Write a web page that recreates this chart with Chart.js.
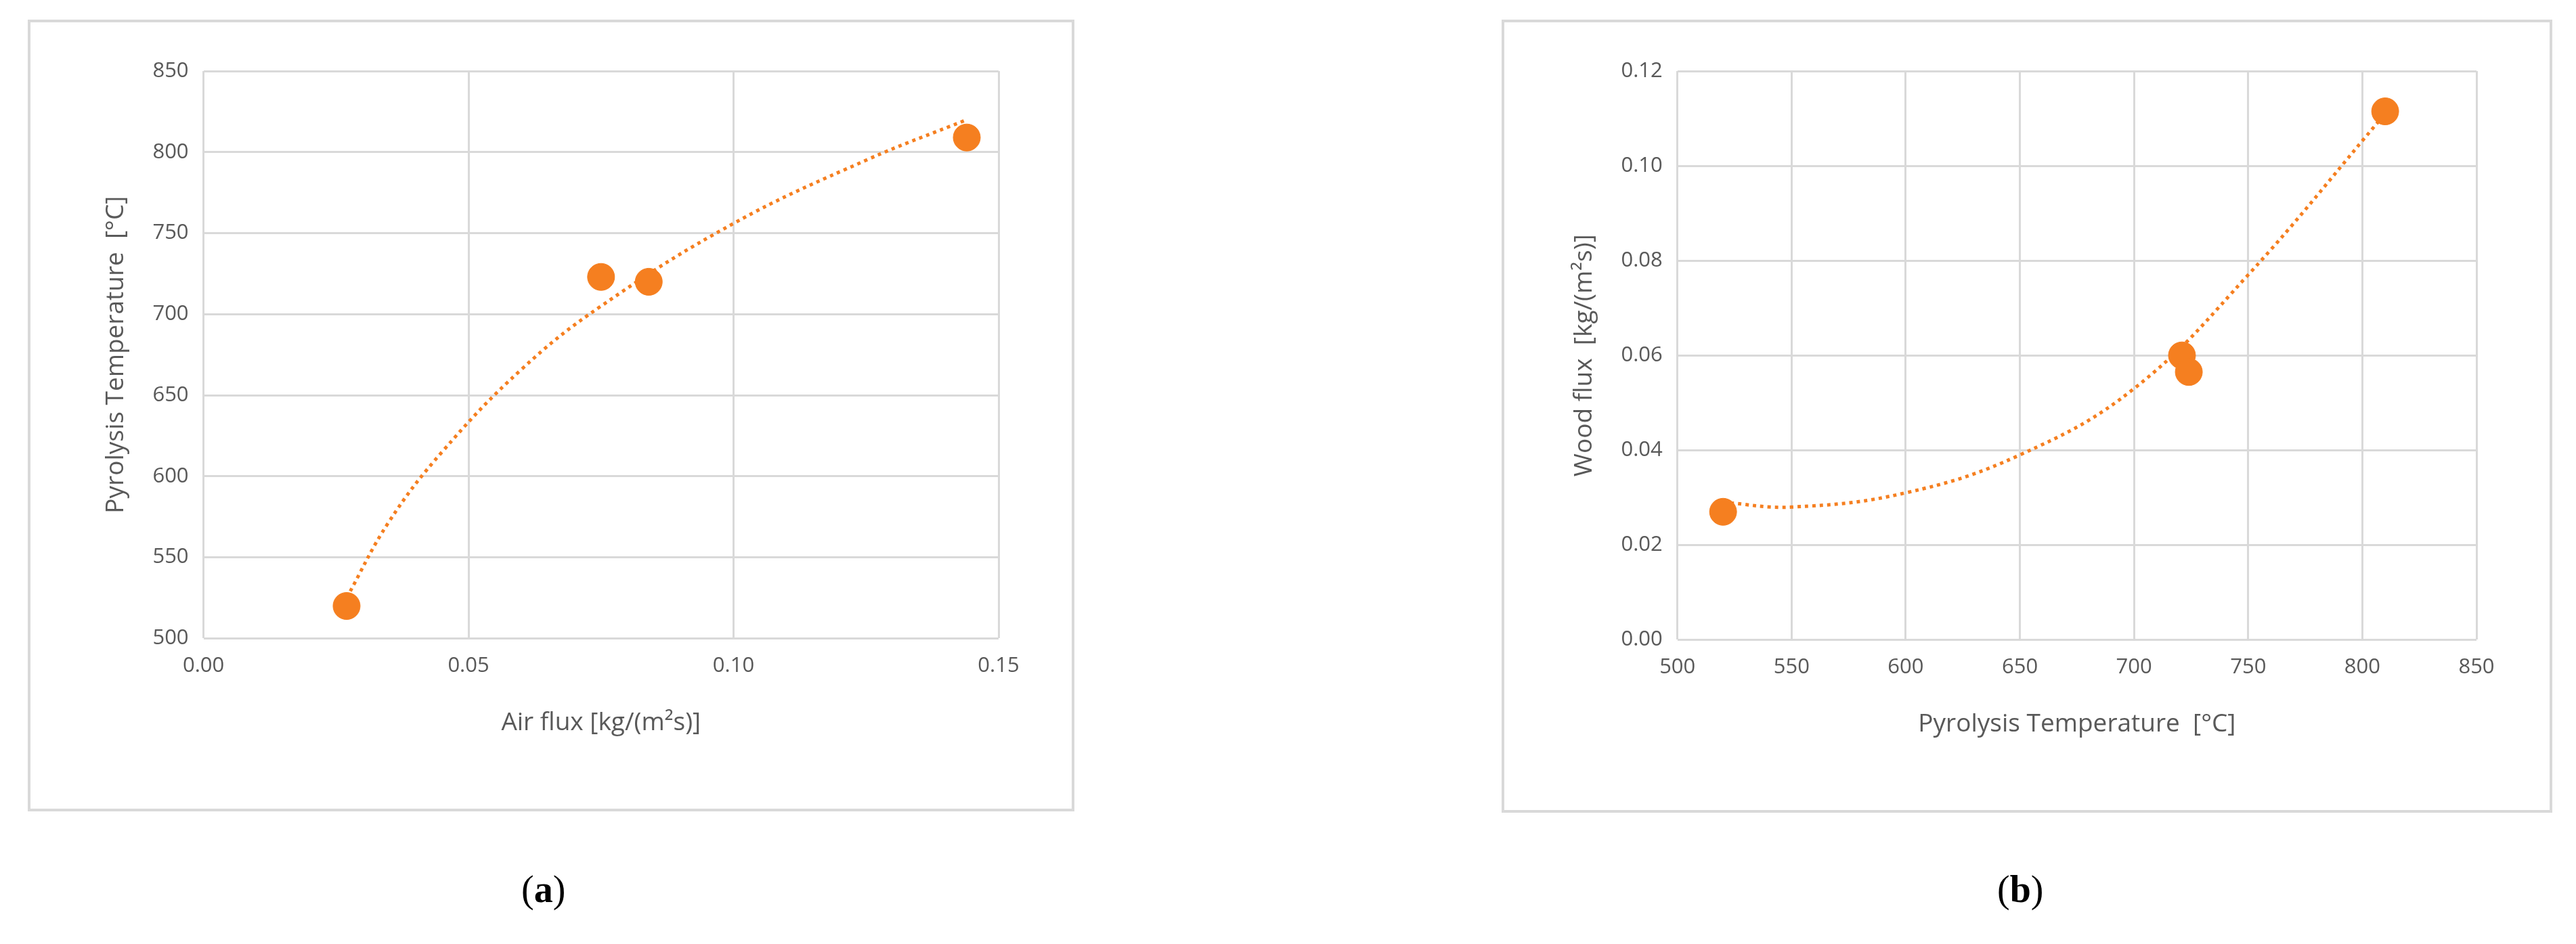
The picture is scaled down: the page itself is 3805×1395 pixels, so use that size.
<!DOCTYPE html>
<html>
<head>
<meta charset="utf-8">
<script src="https://cdn.jsdelivr.net/npm/chart.js@4.4.0/dist/chart.umd.min.js"></script>
<style>
  body { margin: 0; background: #fff; width: 3805px; height: 1395px; position: relative; overflow: hidden; }
  .box { position: absolute; border: 4px solid #d9d9d9; box-sizing: border-box; }
  .cap { position: absolute; font-family: "Liberation Serif", serif; font-size: 56px; color: #000; }
</style>
</head>
<body>
<div class="box" style="left:41px;top:29px;width:1546px;height:1170px"><canvas id="chartA"></canvas></div>
<div class="box" style="left:2218px;top:29px;width:1552px;height:1172px"><canvas id="chartB"></canvas></div>
<div class="cap" style="left:770px;top:1282px">(<b>a</b>)</div>
<div class="cap" style="left:2950px;top:1282px">(<b>b</b>)</div>
<script>
// panel (a): air flux vs pyrolysis temperature
const airFlux = [0.027, 0.075, 0.084, 0.144];
const pyroTempA = [520, 723, 720, 809];
const trendAx = [0.027, 0.035, 0.045, 0.06, 0.075, 0.1, 0.125, 0.144];
const trendAy = [525, 572, 615, 666, 705, 756, 795, 820];

// panel (b): pyrolysis temperature vs wood flux
const pyroTempB = [520, 721, 724, 810];
const woodFlux = [0.027, 0.060, 0.0565, 0.1115];
const trendBx = [520, 550, 600, 650, 700, 750, 810];
const trendBy = [0.029, 0.028, 0.031, 0.039, 0.053, 0.077, 0.111];

const orange = '#f57f20';
const tickFont = { family: 'Open Sans', size: 31 };
const titleFont = { family: 'Open Sans', size: 37 };
const grey = '#595959';

function makeChart(id, px, py, tx, ty, xOpt, yOpt, xTitle, yTitle, pad) {
  new Chart(document.getElementById(id), {
    type: 'scatter',
    data: {
      datasets: [
        {
          data: px.map((x, i) => ({ x: x, y: py[i] })),
          backgroundColor: orange, borderColor: orange, pointRadius: 20, pointHoverRadius: 20
        },
        {
          data: tx.map((x, i) => ({ x: x, y: ty[i] })),
          showLine: true, tension: 0.4, borderColor: orange,
          borderWidth: 5, borderDash: [5, 6], pointRadius: 0, fill: false
        }
      ]
    },
    options: {
      responsive: true, maintainAspectRatio: false, animation: false,
      layout: { padding: pad },
      plugins: { legend: { display: false }, tooltip: { enabled: false } },
      scales: {
        x: Object.assign({
          type: 'linear',
          grid: { color: '#d9d9d9', lineWidth: 3, drawTicks: false },
          border: { display: false },
          title: { display: true, text: xTitle, color: grey, font: titleFont, padding: { top: 22 } }
        }, xOpt),
        y: Object.assign({
          grid: { color: '#d9d9d9', lineWidth: 3, drawTicks: false },
          border: { display: false },
          title: { display: true, text: yTitle, color: grey, font: titleFont, padding: { bottom: 10 } }
        }, yOpt)
      }
    }
  });
}

makeChart('chartA', airFlux, pyroTempA, trendAx, trendAy,
  { min: 0, max: 0.15, ticks: { color: grey, font: tickFont, padding: 22, stepSize: 0.05, callback: v => v.toFixed(2) } },
  { min: 500, max: 850, ticks: { color: grey, font: tickFont, padding: 22, stepSize: 50 } },
  'Air flux [kg/(m²s)]', 'Pyrolysis Temperature  [°C]',
  { left: 100, right: 108, top: 72, bottom: 100 });

makeChart('chartB', pyroTempB, woodFlux, trendBx, trendBy,
  { min: 500, max: 850, ticks: { color: grey, font: tickFont, padding: 22, stepSize: 50 } },
  { min: 0, max: 0.12, ticks: { color: grey, font: tickFont, padding: 22, stepSize: 0.02, callback: v => v.toFixed(2) } },
  'Pyrolysis Temperature  [°C]', 'Wood flux  [kg/(m²s)]',
  { left: 92, right: 108, top: 72, bottom: 100 });
</script>
</body>
</html>
